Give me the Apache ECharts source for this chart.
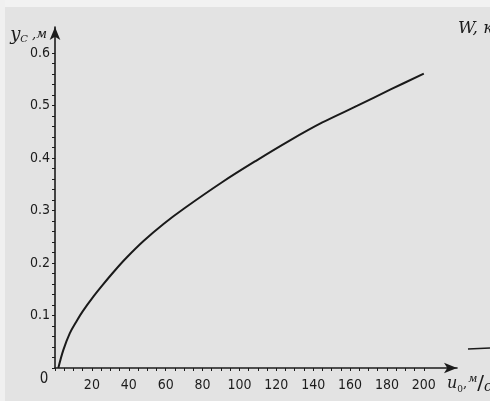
<!DOCTYPE html>
<html><head><meta charset="utf-8">
<script src="https://cdn.jsdelivr.net/npm/echarts@6/dist/echarts.min.js"></script>
<style>html,body{margin:0;padding:0;background:#e3e3e3}#c{width:490px;height:401px}</style>
</head><body><div id="c"></div>
<script>
// Curve y_C (m) versus u0 (m/s)
var uValues = [1.8, 4.5, 8, 12, 15, 21, 26, 32, 39, 48, 59, 70, 91, 109, 127, 145, 164, 182, 200];
var yValues = [0, 0.034, 0.066, 0.091, 0.108, 0.137, 0.159, 0.184, 0.211, 0.242, 0.275, 0.304, 0.355, 0.395, 0.433, 0.468, 0.500, 0.531, 0.561];
var xTickLabels = [0, 20, 40, 60, 80, 100, 120, 140, 160, 180, 200];
var yTickLabels = [0.1, 0.2, 0.3, 0.4, 0.5, 0.6];

var xMinor = []; for (var i = 0; i <= 40; i++) xMinor.push(i * 5);
var yMinor = []; for (var j = 0; j <= 30; j++) yMinor.push(+(j * 0.02).toFixed(2));

var font = "'Liberation Sans Narrow','DejaVu Sans Condensed','Liberation Sans',sans-serif";
var ink = '#1c1c1c';

var chart = echarts.init(document.getElementById('c'), null, {renderer: 'canvas'});
chart.setOption({
  backgroundColor: '#e3e3e3',
  animation: false,
  grid: {left: 55, right: 33, top: 27, bottom: 33, containLabel: false, outerBoundsMode: 'none'},
  xAxis: {
    type: 'value', min: 0, max: 218, interval: 20,
    axisLine: {show: true, lineStyle: {color: ink, width: 1.6}, symbol: ['none', 'arrow'], symbolSize: [8, 13], symbolOffset: [0, 0]},
    axisTick: {show: true, customValues: xMinor, length: 3, inside: false, lineStyle: {color: ink, width: 1}},
    splitLine: {show: false},
    axisLabel: {
      customValues: xTickLabels, margin: 4, color: ink, fontFamily: font, fontSize: 14,
      formatter: function (v) { return v === 0 ? '{z|0}' : '{n|' + v + '}'; },
      rich: {
        z: {fontFamily: font, fontSize: 15, color: ink, padding: [0, 22, 0, 0]},
        n: {fontFamily: font, fontSize: 14, color: ink, padding: [6, 0, 0, 0]}
      }
    },
    name: '{u|u}{s|0}{t|,}{m|м}{sl|/}{c|c}',
    nameLocation: 'end', nameGap: -10,
    nameTextStyle: {
      align: 'left', verticalAlign: 'top', padding: [6, 0, 0, 0],
      rich: {
        u: {fontFamily: 'DejaVu Serif, serif', fontStyle: 'italic', fontSize: 16, color: ink, verticalAlign: 'middle'},
        s: {fontFamily: 'DejaVu Serif, serif', fontSize: 9, color: ink, verticalAlign: 'bottom'},
        t: {fontFamily: 'DejaVu Serif, serif', fontSize: 13, color: ink, padding: [0, 1, 0, 0]},
        m: {fontFamily: 'DejaVu Serif, serif', fontStyle: 'italic', fontSize: 11, color: ink, verticalAlign: 'top'},
        sl: {fontFamily: 'DejaVu Sans, sans-serif', fontSize: 20, color: ink},
        c: {fontFamily: 'DejaVu Serif, serif', fontStyle: 'italic', fontSize: 14, color: ink, verticalAlign: 'bottom'}
      }
    }
  },
  yAxis: {
    type: 'value', min: 0, max: 0.65, interval: 0.1,
    axisLine: {show: true, lineStyle: {color: ink, width: 1.6}, symbol: ['none', 'arrow'], symbolSize: [8, 13]},
    axisTick: {show: true, customValues: yMinor, length: 3, inside: false, lineStyle: {color: ink, width: 1}},
    splitLine: {show: false},
    axisLabel: {customValues: yTickLabels, margin: 5, color: ink, fontFamily: font, fontSize: 14,
      formatter: function (v) { return v.toFixed(1); }},
    name: '{y|y}{s|C}{t| ,м}',
    nameLocation: 'end', nameGap: -8,
    nameTextStyle: {
      align: 'right', verticalAlign: 'middle', padding: [0, 8, 0, 0],
      rich: {
        y: {fontFamily: 'DejaVu Serif, serif', fontStyle: 'italic', fontSize: 18, color: ink},
        s: {fontFamily: 'DejaVu Serif, serif', fontStyle: 'italic', fontSize: 10, color: ink, verticalAlign: 'bottom'},
        t: {fontFamily: 'DejaVu Serif, serif', fontStyle: 'italic', fontSize: 13, color: ink}
      }
    }
  },
  series: [{
    type: 'line', smooth: 0.35, showSymbol: false,
    lineStyle: {color: '#1a1a1a', width: 2},
    data: uValues.map(function (u, k) { return [u, yValues[k]]; })
  }],
  graphic: [
    {type: 'rect', z: -10, shape: {x: 0, y: 0, width: 490, height: 7}, style: {fill: '#f2f2f2'}},
    {type: 'rect', z: -10, shape: {x: 0, y: 0, width: 5, height: 401}, style: {fill: '#f0f0f0'}},
    {type: 'text', left: 458, top: 20, style: {text: 'W, кг', fontFamily: 'DejaVu Serif, serif', fontStyle: 'italic', fontSize: 17, fill: ink}},
    {type: 'line', shape: {x1: 468, y1: 349, x2: 490, y2: 348}, style: {stroke: ink, lineWidth: 1.5}}
  ]
});
</script></body></html>
